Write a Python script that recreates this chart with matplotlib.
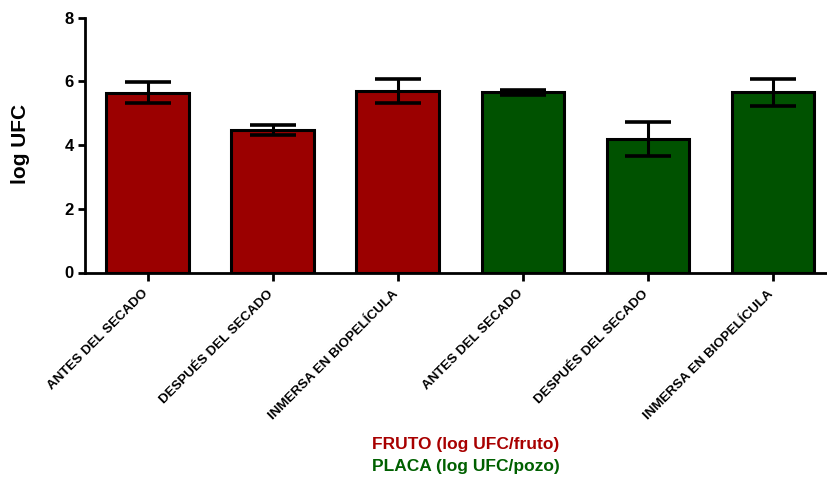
import matplotlib
matplotlib.use("Agg")
import matplotlib.pyplot as plt
import numpy as np

plt.rcParams["font.family"] = ["Liberation Sans", "DejaVu Sans"]
plt.rcParams["font.weight"] = "bold"

categories = ["ANTES DEL SECADO", "DESPUÉS DEL SECADO", "INMERSA EN BIOPELÍCULA",
              "ANTES DEL SECADO", "DESPUÉS DEL SECADO", "INMERSA EN BIOPELÍCULA"]
means = [5.64, 4.47, 5.69, 5.66, 4.18, 5.65]
errors = [0.33, 0.17, 0.37, 0.08, 0.54, 0.42]
groups = ["fruto", "fruto", "fruto", "placa", "placa", "placa"]

bar_colors = {"fruto": "#9b0000", "placa": "#005200"}
text_colors = {"fruto": "#a80000", "placa": "#006000"}

W, H = 828, 478
fig = plt.figure(figsize=(W / 100, H / 100), dpi=100)
ax = fig.add_axes([85 / W, 205.5 / H, (W - 85) / W, 255 / H])

x = np.arange(len(categories))
ax.bar(x, means, width=0.66, color=[bar_colors[g] for g in groups],
       edgecolor="black", linewidth=2.2, zorder=2)
ax.errorbar(x, means, yerr=errors, fmt="none", ecolor="black",
            elinewidth=2.2, capsize=16.5, capthick=2.6, zorder=3)

ax.set_xlim(-0.5, 5.44)
ax.set_ylim(0, 8)
ax.set_yticks([0, 2, 4, 6, 8])
ax.set_xticks(x)
ax.set_xticklabels([])
# category labels, slanted and pulled a little left of each tick
for xi, name in zip(x, categories):
    ax.annotate(name, xy=(xi, 0), xycoords=("data", "axes fraction"),
                xytext=(-4, -11), textcoords="offset points",
                rotation=45, ha="right", va="top", rotation_mode="anchor",
                fontsize=9.6, fontweight="bold", annotation_clip=False)
ax.tick_params(axis="y", labelsize=12, width=2, length=5, pad=3)
ax.tick_params(axis="x", width=2, length=6)
for lbl in ax.get_yticklabels():
    lbl.set_fontweight("bold")

ax.spines["top"].set_visible(False)
ax.spines["right"].set_visible(False)
ax.spines["left"].set_linewidth(2)
ax.spines["bottom"].set_linewidth(2)

fig.text(21 / W, 1 - 144 / H, "log UFC", rotation=90, ha="center", va="center",
         fontsize=15, fontweight="bold")

fig.text(466 / W, 1 - 445 / H, "FRUTO (log UFC/fruto)", ha="center", va="center",
         fontsize=12.5, fontweight="bold", color=text_colors["fruto"])
fig.text(466 / W, 1 - 466 / H, "PLACA (log UFC/pozo)", ha="center", va="center",
         fontsize=12.5, fontweight="bold", color=text_colors["placa"])

fig.savefig("out.png", dpi=100)
